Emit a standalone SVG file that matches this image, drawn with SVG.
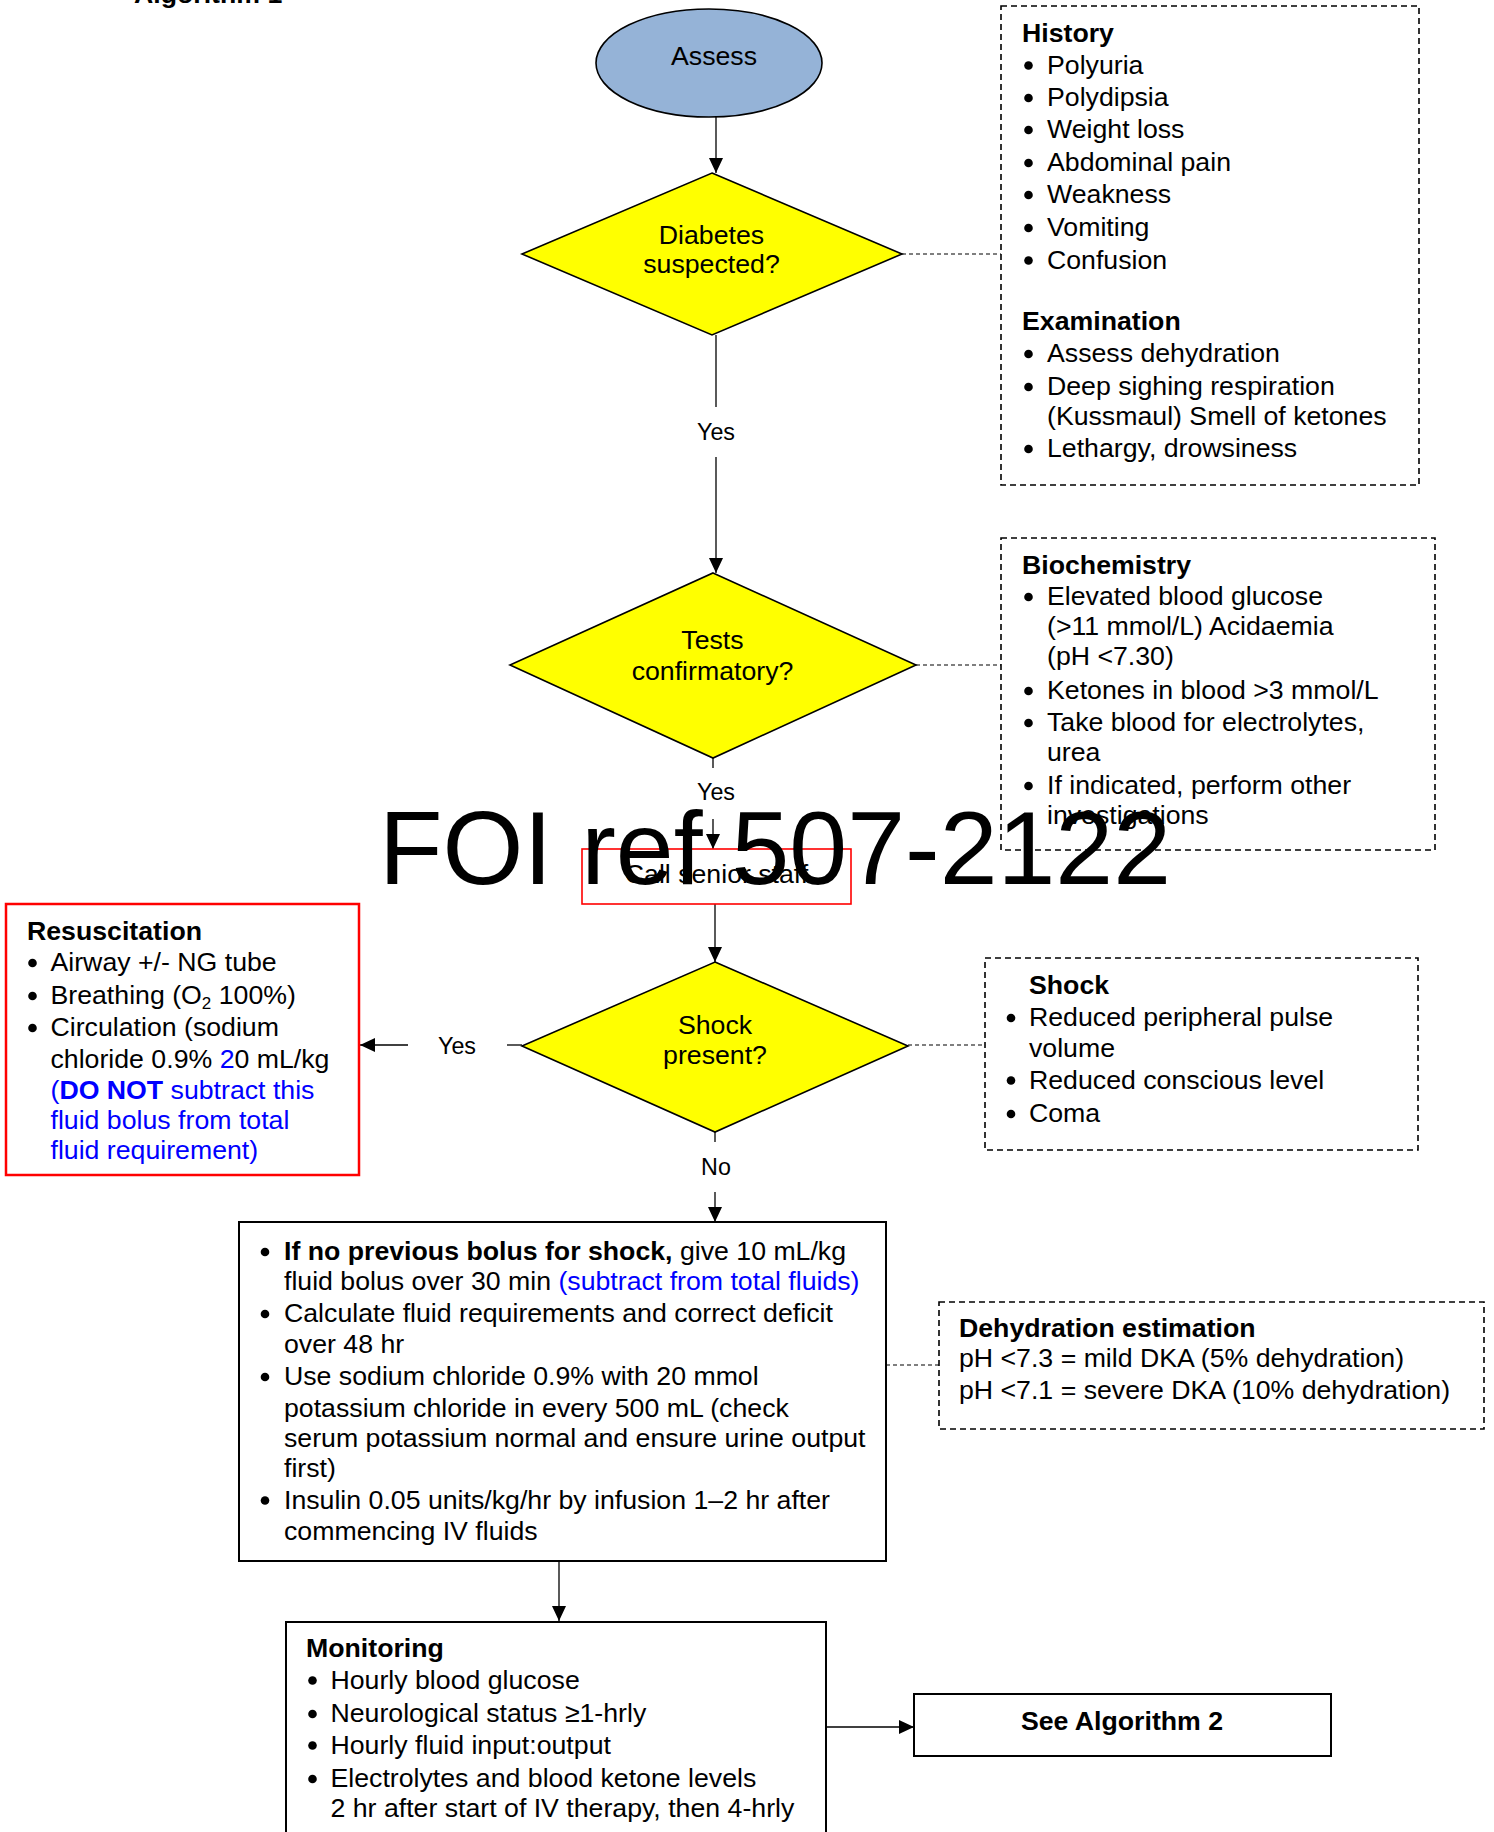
<svg xmlns="http://www.w3.org/2000/svg" width="1494" height="1832" viewBox="0 0 1494 1832">
  <style>
    text { font-family: "Liberation Sans", Arial, sans-serif; font-size: 26.7px; fill: #000; }
    .b { font-weight: bold; }
    .lbl { font-size: 23.3px; }
    .c { text-anchor: middle; }
    .blue { fill: #0000ff; }
    .sub { font-size: 17px; }
    .stamp { font-size: 104px; }
    .conn { stroke: #000; stroke-width: 1.3; fill: none; }
    .dot { stroke: #000; stroke-width: 1.2; stroke-dasharray: 4 3; fill: none; }
    .dash { stroke: #000; stroke-width: 1.6; stroke-dasharray: 6 4; fill: #fff; }
    .box { stroke: #000; stroke-width: 2; fill: #fff; }
    .red { stroke: #ff0000; fill: #fff; }
    .diamond { fill: #ffff00; stroke: #000; stroke-width: 1.6; }
    .bul { fill: #000; }
  </style>
  <defs>
    <marker id="arr" markerUnits="userSpaceOnUse" markerWidth="15" markerHeight="14" refX="15" refY="7" orient="auto">
      <path d="M0,0 L15,7 L0,14 z" fill="#000"/>
    </marker>
    <circle id="dotb" r="4.3" class="bul"/>
  </defs>

  <!-- page title -->
  <text class="b" x="134" y="3">Algorithm 1</text>

  <!-- connectors -->
  <g id="connectors">
    <line class="conn" x1="716" y1="117" x2="716" y2="173" marker-end="url(#arr)"/>
    <line class="conn" x1="716" y1="335" x2="716" y2="407"/>
    <text class="lbl c" x="716" y="440">Yes</text>
    <line class="conn" x1="716" y1="457" x2="716" y2="573" marker-end="url(#arr)"/>
    <line class="conn" x1="713" y1="758" x2="713" y2="768"/>
    <text class="lbl c" x="716" y="800">Yes</text>
    <line class="conn" x1="713" y1="819" x2="713" y2="849" marker-end="url(#arr)"/>
    <line class="conn" x1="715" y1="904" x2="715" y2="962" marker-end="url(#arr)"/>
    <line class="conn" x1="522" y1="1045" x2="507" y2="1045"/>
    <text class="lbl c" x="457" y="1054">Yes</text>
    <line class="conn" x1="408" y1="1045" x2="360" y2="1045" marker-end="url(#arr)"/>
    <line class="conn" x1="715" y1="1132" x2="715" y2="1142"/>
    <text class="lbl c" x="716" y="1175">No</text>
    <line class="conn" x1="715" y1="1192" x2="715" y2="1222" marker-end="url(#arr)"/>
    <line class="conn" x1="559" y1="1561" x2="559" y2="1621" marker-end="url(#arr)"/>
    <line class="conn" x1="826" y1="1727" x2="914" y2="1727" marker-end="url(#arr)"/>
    <!-- dotted links to info panels -->
    <line class="dot" x1="902" y1="254" x2="1001" y2="254"/>
    <line class="dot" x1="916" y1="665" x2="1001" y2="665"/>
    <line class="dot" x1="908" y1="1045" x2="985" y2="1045"/>
    <line class="dot" x1="886" y1="1365" x2="939" y2="1365"/>
  </g>

  <!-- start -->
  <g id="assess">
    <ellipse cx="709" cy="63" rx="113" ry="54" fill="#95b3d7" stroke="#000" stroke-width="1.6"/>
    <text class="c" x="714" y="65">Assess</text>
  </g>

  <g id="diabetes-suspected">
    <polygon class="diamond" points="712,173 902,254 712,335 522,254"/>
    <text class="c" x="711.5" y="243.5">Diabetes</text>
    <text class="c" x="711.5" y="273">suspected?</text>
  </g>

  <g id="history">
    <rect class="dash" x="1001" y="6" width="418" height="479"/>
    <text class="b" x="1022" y="42">History</text>
    <use href="#dotb" x="1028.5" y="65.5"/><text x="1047" y="73.5">Polyuria</text>
    <use href="#dotb" x="1028.5" y="98"/><text x="1047" y="106">Polydipsia</text>
    <use href="#dotb" x="1028.5" y="130"/><text x="1047" y="138">Weight loss</text>
    <use href="#dotb" x="1028.5" y="163"/><text x="1047" y="171">Abdominal pain</text>
    <use href="#dotb" x="1028.5" y="195"/><text x="1047" y="203">Weakness</text>
    <use href="#dotb" x="1028.5" y="228"/><text x="1047" y="236">Vomiting</text>
    <use href="#dotb" x="1028.5" y="260.5"/><text x="1047" y="268.5">Confusion</text>
    <text class="b" x="1022" y="330">Examination</text>
    <use href="#dotb" x="1028.5" y="354"/><text x="1047" y="362">Assess dehydration</text>
    <use href="#dotb" x="1028.5" y="387"/><text x="1047" y="395">Deep sighing respiration</text>
    <text x="1047" y="425">(Kussmaul) Smell of ketones</text>
    <use href="#dotb" x="1028.5" y="449"/><text x="1047" y="457">Lethargy, drowsiness</text>
  </g>

  <g id="tests-confirmatory">
    <polygon class="diamond" points="713,573 916,665 713,758 510,665"/>
    <text class="c" x="712.5" y="648.5">Tests</text>
    <text class="c" x="712.5" y="679.5">confirmatory?</text>
  </g>

  <g id="biochemistry">
    <rect class="dash" x="1001" y="538" width="434" height="312"/>
    <text class="b" x="1022" y="573.5">Biochemistry</text>
    <use href="#dotb" x="1028.5" y="597"/><text x="1047" y="605">Elevated blood glucose</text>
    <text x="1047" y="635">(&gt;11 mmol/L) Acidaemia</text>
    <text x="1047" y="665">(pH &lt;7.30)</text>
    <use href="#dotb" x="1028.5" y="691"/><text x="1047" y="699">Ketones in blood &gt;3 mmol/L</text>
    <use href="#dotb" x="1028.5" y="723"/><text x="1047" y="731">Take blood for electrolytes,</text>
    <text x="1047" y="761">urea</text>
    <use href="#dotb" x="1028.5" y="786"/><text x="1047" y="794">If indicated, perform other</text>
    <text x="1047" y="824">investigations</text>
  </g>

  <g id="call-senior-staff">
    <rect class="red" x="582" y="849" width="269" height="55" stroke-width="1.6"/>
    <text class="c" x="716.5" y="883">Call senior staff</text>
  </g>

  <g id="shock-present">
    <polygon class="diamond" points="715,962 908,1046 715,1132 522,1046"/>
    <text class="c" x="715" y="1034">Shock</text>
    <text class="c" x="715" y="1064">present?</text>
  </g>

  <g id="resuscitation">
    <rect class="red" x="6" y="904" width="353" height="271" stroke-width="2.5"/>
    <text class="b" x="27" y="939.5">Resuscitation</text>
    <use href="#dotb" x="32.5" y="963"/><text x="50.5" y="971">Airway +/- NG tube</text>
    <use href="#dotb" x="32.5" y="996"/><text x="50.5" y="1004">Breathing (O<tspan class="sub" dy="5">2</tspan><tspan dy="-5"> 100%)</tspan></text>
    <use href="#dotb" x="32.5" y="1028"/><text x="50.5" y="1036">Circulation (sodium</text>
    <text x="50.5" y="1067.5">chloride 0.9% <tspan class="blue">2</tspan>0 mL/kg</text>
    <text class="blue" x="50.5" y="1098.5">(<tspan class="b">DO NOT</tspan> subtract this</text>
    <text class="blue" x="50.5" y="1128.5">fluid bolus from total</text>
    <text class="blue" x="50.5" y="1158.5">fluid requirement)</text>
  </g>

  <g id="shock-signs">
    <rect class="dash" x="985" y="958" width="433" height="192"/>
    <text class="b" x="1029" y="993.5">Shock</text>
    <use href="#dotb" x="1011" y="1018"/><text x="1029" y="1026">Reduced peripheral pulse</text>
    <text x="1029" y="1057">volume</text>
    <use href="#dotb" x="1011" y="1080.5"/><text x="1029" y="1088.5">Reduced conscious level</text>
    <use href="#dotb" x="1011" y="1114"/><text x="1029" y="1122">Coma</text>
  </g>

  <g id="fluids">
    <rect class="box" x="239" y="1222" width="647" height="339"/>
    <use href="#dotb" x="265" y="1252"/><text x="284" y="1260"><tspan class="b">If no previous bolus for shock,</tspan> give 10 mL/kg</text>
    <text x="284" y="1289.5">fluid bolus over 30 min <tspan class="blue">(subtract from total fluids)</tspan></text>
    <use href="#dotb" x="265" y="1314"/><text x="284" y="1322">Calculate fluid requirements and correct deficit</text>
    <text x="284" y="1353">over 48 hr</text>
    <use href="#dotb" x="265" y="1377"/><text x="284" y="1385">Use sodium chloride 0.9% with 20 mmol</text>
    <text x="284" y="1417">potassium chloride in every 500 mL (check</text>
    <text x="284" y="1447">serum potassium normal and ensure urine output</text>
    <text x="284" y="1477">first)</text>
    <use href="#dotb" x="265" y="1500.5"/><text x="284" y="1508.5">Insulin 0.05 units/kg/hr by infusion 1–2 hr after</text>
    <text x="284" y="1539.5">commencing IV fluids</text>
  </g>

  <g id="dehydration">
    <rect class="dash" x="939" y="1302" width="545" height="127"/>
    <text class="b" x="959" y="1337">Dehydration estimation</text>
    <text x="959" y="1367">pH &lt;7.3 = mild DKA (5% dehydration)</text>
    <text x="959" y="1398.5">pH &lt;7.1 = severe DKA (10% dehydration)</text>
  </g>

  <g id="monitoring">
    <rect class="box" x="286" y="1622" width="540" height="260"/>
    <text class="b" x="306" y="1657">Monitoring</text>
    <use href="#dotb" x="312.5" y="1680.5"/><text x="330.5" y="1688.5">Hourly blood glucose</text>
    <use href="#dotb" x="312.5" y="1714"/><text x="330.5" y="1722">Neurological status ≥1-hrly</text>
    <use href="#dotb" x="312.5" y="1745.5"/><text x="330.5" y="1753.5">Hourly fluid input:output</text>
    <use href="#dotb" x="312.5" y="1779"/><text x="330.5" y="1787">Electrolytes and blood ketone levels</text>
    <text x="330.5" y="1817">2 hr after start of IV therapy, then 4-hrly</text>
  </g>

  <g id="see-algorithm-2">
    <rect class="box" x="914" y="1694" width="417" height="62"/>
    <text class="b c" x="1122" y="1730">See Algorithm 2</text>
  </g>

  <!-- reference stamp over the page -->
  <text class="stamp" x="379" y="884">FOI ref 507-2122</text>
</svg>
